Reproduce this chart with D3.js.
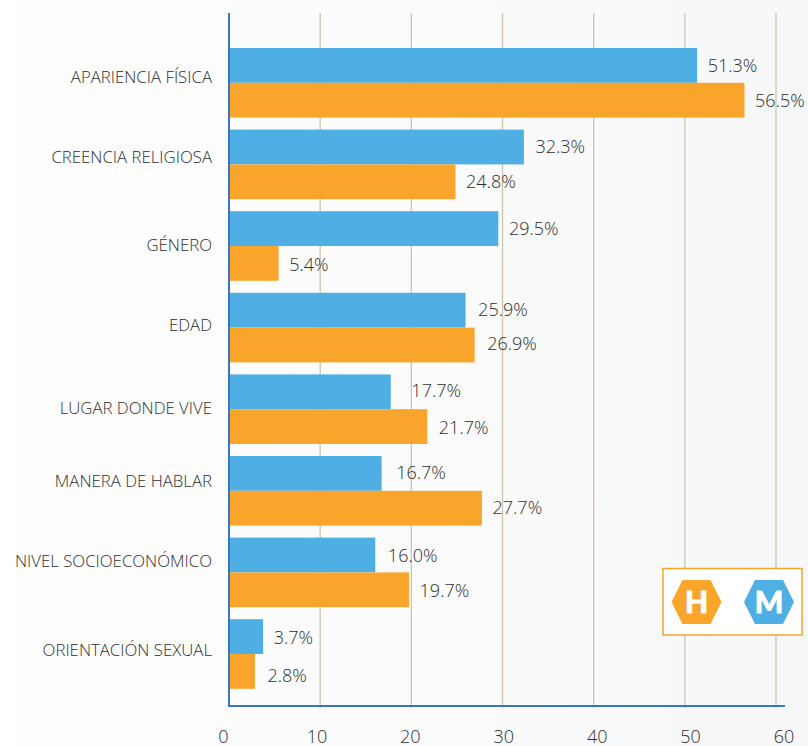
<!DOCTYPE html>
<html><head><meta charset="utf-8">
<script src="https://cdn.jsdelivr.net/npm/d3@7/dist/d3.min.js"></script>
<style>html,body{margin:0;padding:0;background:#fff;overflow:hidden}svg{display:block}text{font-family:"Open Sans",Lato,sans-serif;font-weight:300;fill:#2e2e2e}</style>
</head><body><svg id="c" width="808" height="746"></svg>
<script>
const categories=["APARIENCIA FÍSICA","CREENCIA RELIGIOSA","GÉNERO","EDAD","LUGAR DONDE VIVE","MANERA DE HABLAR","NIVEL SOCIOECONÓMICO","ORIENTACIÓN SEXUAL"];
const mujeres=[51.3,32.3,29.5,25.9,17.7,16.7,16.0,3.7];
const hombres=[56.5,24.8,5.4,26.9,21.7,27.7,19.7,2.8];
const ticks=[0,10,20,30,40,50,60];
const legendItems=[{k:"H",c:"#f9a52b"},{k:"M",c:"#4faee3"}];
// hand-placed nudges seen in the reference
const catNudge=[10,8,14,13,14,6,4,11];
const nudgeM={dx:[0,1,0,2,10,4,2,0],dy:[0,0,0,-1,-1,-1,1,1]};
const nudgeH={dx:[0,0,0,2,1,0,0,2],dy:[0,0,1,-2,1,-1,1,4]};
const svg=d3.select("#c");
const defs=svg.append("defs");
const g=defs.append("linearGradient").attr("id","bg").attr("x1",0).attr("x2",1).attr("y1",0).attr("y2",0);
g.append("stop").attr("offset",0).attr("stop-color","#fefefe");
g.append("stop").attr("offset",.55).attr("stop-color","#fbfbfc");
g.append("stop").attr("offset",1).attr("stop-color","#f6f7f9");
svg.append("rect").attr("x",15).attr("width",793).attr("height",746).attr("fill","url(#bg)");
const x=d3.scaleLinear().domain([0,60]).range([229,776]);
const xLabel=d3.scaleLinear().domain([0,60]).range([223.5,784]);
const y=d3.scaleBand().domain(categories).range([42,694.8]).paddingInner(.147).paddingOuter(.0735);
const sub=d3.scaleBand().domain(["M","H"]).range([0,y.bandwidth()]);
svg.selectAll(".grid").data(ticks.slice(1)).join("line").attr("x1",d=>x(d)).attr("x2",d=>x(d)).attr("y1",13).attr("y2",708).attr("stroke","#cbc4ae").attr("stroke-width",1.3);
const series=[{k:"M",v:mujeres,c:"#4faee3",n:nudgeM},{k:"H",v:hombres,c:"#f9a52b",n:nudgeH}];
series.forEach(s=>{
  svg.selectAll(".b"+s.k).data(categories).join("rect").attr("x",x(0)).attr("y",d=>y(d)+sub(s.k)).attr("width",(d,i)=>x(s.v[i])-x(0)+.4).attr("height",sub.bandwidth()).attr("fill",s.c);
  svg.selectAll(".t"+s.k).data(categories).join("text").attr("x",(d,i)=>x(s.v[i])+11+s.n.dx[i]).attr("y",(d,i)=>y(d)+sub(s.k)+sub.bandwidth()/2+6.5+s.n.dy[i]).attr("font-size",18).text((d,i)=>s.v[i].toFixed(1)+"%");
});
svg.selectAll(".cat").data(categories).join("text").attr("x",212).attr("y",(d,i)=>y(d)+y.bandwidth()/2-10+catNudge[i]+.5).attr("text-anchor","end").attr("font-size",16.8).text(d=>d);
svg.append("line").attr("x1",x(0)).attr("x2",x(0)).attr("y1",13).attr("y2",706).attr("stroke","#3a75c4").attr("stroke-width",2);
svg.append("line").attr("x1",228).attr("x2",785).attr("y1",706).attr("y2",706).attr("stroke","#3a75c4").attr("stroke-width",2);
svg.selectAll(".tick").data(ticks).join("text").attr("x",d=>xLabel(d)).attr("y",743).attr("text-anchor","middle").attr("font-size",18).text(d=>d);
svg.append("rect").attr("x",663).attr("y",568.5).attr("width",139).attr("height",66.5).attr("fill","#fff").attr("stroke","#f9a52b").attr("stroke-width",1.5);
const lx=d3.scaleOrdinal().domain(["H","M"]).range([696.5,769]);
const hex=d3.line();
legendItems.forEach(l=>{
  const cx=lx(l.k),cy=602;
  svg.append("path").attr("d",hex([[cx-25,cy],[cx-14,cy-22],[cx+14,cy-22],[cx+25,cy],[cx+14,cy+22],[cx-14,cy+22]])+"Z").attr("fill",l.c);
  svg.append("text").attr("x",cx).attr("y",cy+11).attr("text-anchor","middle").attr("font-size",30).style("font-family","Lato").style("font-weight",900).style("fill","#fff").style("stroke","#fff").style("stroke-width",.8).text(l.k);
});
</script></body></html>
